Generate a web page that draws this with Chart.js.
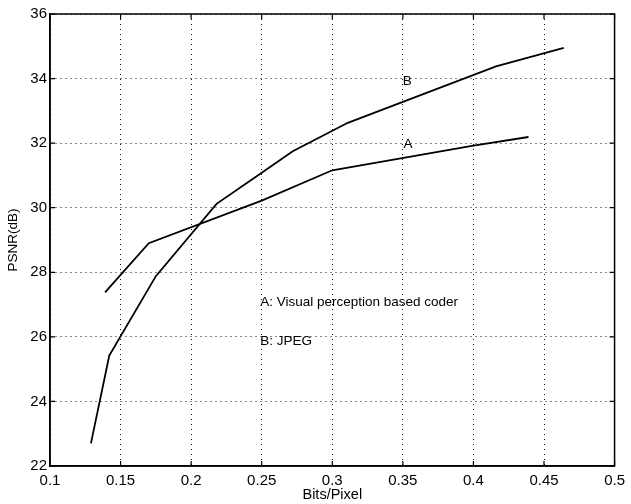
<!DOCTYPE html>
<html>
<head>
<meta charset="utf-8">
<script src="https://cdn.jsdelivr.net/npm/chart.js@4/dist/chart.umd.min.js"></script>
<style>
    html, body { margin: 0; padding: 0; background: #fff; }
    #psnrChart { display: block; }
</style>
</head>
<body>
<canvas id="psnrChart" width="631" height="504"></canvas>
<script>
/** 码率 (Bits/Pixel) 与 PSNR 数据 */
var bitsA = [0.139, 0.170, 0.250, 0.300, 0.400, 0.439]
var psnrA = [27.38, 28.90, 30.22, 31.16, 31.92, 32.19]
var bitsB = [0.129, 0.142, 0.175, 0.218, 0.249, 0.272, 0.311, 0.416, 0.464]
var psnrB = [22.70, 25.42, 27.88, 30.12, 31.05, 31.75, 32.63, 34.38, 34.95]

/** 坐标轴刻度 */
var xTicks = [0.1, 0.15, 0.2, 0.25, 0.3, 0.35, 0.4, 0.45, 0.5]
var yTicks = [22, 24, 26, 28, 30, 32, 34, 36]

/** 曲线旁的文字 (数据坐标) */
var notes = [
    { text: 'B', x: 0.3532, y: 33.91, align: 'center' },
    { text: 'A', x: 0.3537, y: 31.98, align: 'center' },
    { text: 'A: Visual perception based coder', x: 0.2489, y: 27.07, align: 'left' },
    { text: 'B: JPEG', x: 0.2489, y: 25.86, align: 'left' }
]

var psnr = {
    font: 'Liberation Sans, Arial, Helvetica, sans-serif',
    funcs: {
        toPoints: function (xs, ys) {
            var pts = []
            xs.forEach(function (x, i) {
                pts.push({ x: x, y: ys[i] })
            })
            return pts
        },
        // 外框 + 朝内的刻度线，和 matlab 的图一样
        framePlugin: {
            id: 'frame',
            afterDatasetsDraw: function (chart) {
                var ctx = chart.ctx
                var a = chart.chartArea
                var xs = chart.scales.x
                var ys = chart.scales.y
                var len = 5
                ctx.save()
                ctx.strokeStyle = '#000'
                ctx.lineWidth = 1.5
                ctx.setLineDash([])
                ctx.strokeRect(a.left, a.top, a.right - a.left, a.bottom - a.top)
                ctx.lineWidth = 1.2
                ctx.beginPath()
                xTicks.forEach(function (v) {
                    var px = xs.getPixelForValue(v)
                    ctx.moveTo(px, a.bottom)
                    ctx.lineTo(px, a.bottom - len)
                    ctx.moveTo(px, a.top)
                    ctx.lineTo(px, a.top + len)
                })
                yTicks.forEach(function (v) {
                    var py = ys.getPixelForValue(v)
                    ctx.moveTo(a.left, py)
                    ctx.lineTo(a.left + len, py)
                    ctx.moveTo(a.right, py)
                    ctx.lineTo(a.right - len, py)
                })
                ctx.stroke()
                ctx.restore()
            },
            afterDraw: function (chart) {
                var ctx = chart.ctx
                var xs = chart.scales.x
                var ys = chart.scales.y
                ctx.save()
                ctx.fillStyle = '#000'
                ctx.font = '13.5px ' + psnr.font
                ctx.textBaseline = 'middle'
                notes.forEach(function (n) {
                    ctx.textAlign = n.align
                    ctx.fillText(n.text, xs.getPixelForValue(n.x), ys.getPixelForValue(n.y))
                })
                ctx.restore()
            }
        },
        createChart: function () {
            var line = {
                borderColor: '#000',
                borderWidth: 1.8,
                pointRadius: 0,
                tension: 0,
                fill: false
            }
            var ctx = document.getElementById('psnrChart').getContext('2d')
            return new Chart(ctx, {
                type: 'line',
                data: {
                    datasets: [
                        Object.assign({ label: 'A', data: psnr.funcs.toPoints(bitsA, psnrA) }, line),
                        Object.assign({ label: 'B', data: psnr.funcs.toPoints(bitsB, psnrB) }, line)
                    ]
                },
                options: {
                    responsive: false,
                    animation: false,
                    layout: { padding: { top: 14, right: 11, left: 0, bottom: 0 } },
                    plugins: {
                        legend: { display: false },
                        tooltip: { enabled: false }
                    },
                    scales: {
                        x: {
                            type: 'linear',
                            min: 0.1,
                            max: 0.5,
                            afterBuildTicks: function (scale) {
                                scale.ticks = xTicks.map(function (v) { return { value: v } })
                            },
                            afterFit: function (scale) { scale.height = 38 },
                            ticks: {
                                color: '#000',
                                padding: 6,
                                maxRotation: 0,
                                font: { family: psnr.font, size: 15 },
                                callback: function (v) { return String(parseFloat(v.toFixed(2))) }
                            },
                            grid: { color: '#111', lineWidth: 1, drawTicks: false },
                            border: { display: true, color: '#000', width: 1.5, dash: [1, 4] },
                            title: {
                                display: true,
                                text: 'Bits/Pixel',
                                color: '#000',
                                padding: 0,
                                font: { family: psnr.font, size: 14.5 }
                            }
                        },
                        y: {
                            min: 22,
                            max: 36,
                            afterBuildTicks: function (scale) {
                                scale.ticks = yTicks.map(function (v) { return { value: v } })
                            },
                            afterFit: function (scale) { scale.width = 50 },
                            ticks: {
                                color: '#000',
                                padding: 3,
                                font: { family: psnr.font, size: 15 }
                            },
                            grid: { color: '#111', lineWidth: 1, drawTicks: false },
                            border: { display: true, color: '#000', width: 1.5, dash: [1, 4] },
                            title: {
                                display: true,
                                text: 'PSNR(dB)',
                                color: '#000',
                                padding: { top: 5, bottom: 0 },
                                font: { family: psnr.font, size: 13.5 }
                            }
                        }
                    }
                },
                plugins: [psnr.funcs.framePlugin]
            })
        }
    }
}

psnr.funcs.createChart()
</script>
</body>
</html>
